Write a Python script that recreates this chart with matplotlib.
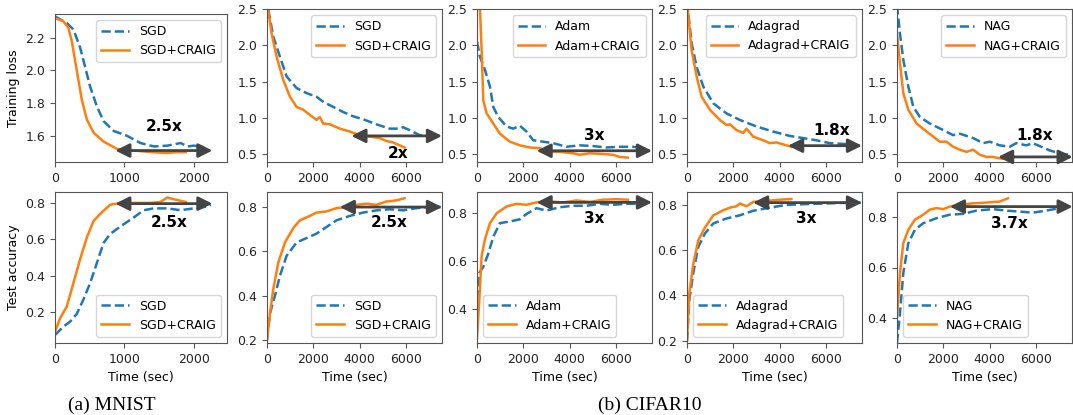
import matplotlib
matplotlib.use('Agg')
import matplotlib.pyplot as plt

# ---- data (time in sec, values) ----
# MNIST, training loss
mn_loss_sgd_t = [0, 169, 266, 362, 435, 507, 604, 700, 845, 1039, 1232, 1425, 1618, 1812, 1910, 2005, 2150]
mn_loss_sgd_v = [2.33, 2.29, 2.25, 2.14, 2.02, 1.90, 1.78, 1.69, 1.63, 1.60, 1.556, 1.535, 1.54, 1.556, 1.535, 1.54, 1.53]
mn_loss_craig_t = [0, 121, 193, 242, 290, 338, 387, 459, 555, 700, 894, 1135, 1400, 1600, 1750, 1884]
mn_loss_craig_v = [2.32, 2.30, 2.26, 2.18, 2.06, 1.94, 1.82, 1.70, 1.62, 1.565, 1.52, 1.51, 1.50, 1.495, 1.50, 1.50]

# MNIST, test accuracy
mn_acc_sgd_t = [0, 121, 217, 314, 411, 507, 604, 700, 797, 942, 1135, 1280, 1425, 1618, 1811, 2004, 2198, 2246]
mn_acc_sgd_v = [0.074, 0.12, 0.147, 0.19, 0.27, 0.36, 0.47, 0.58, 0.63, 0.67, 0.72, 0.76, 0.77, 0.77, 0.76, 0.77, 0.78, 0.79]
mn_acc_craig_t = [0, 72, 169, 266, 362, 459, 555, 652, 797, 942, 1135, 1377, 1521, 1618, 1715, 1884]
mn_acc_craig_v = [0.09, 0.165, 0.23, 0.36, 0.49, 0.61, 0.70, 0.74, 0.79, 0.80, 0.80, 0.80, 0.805, 0.83, 0.82, 0.805]

# CIFAR10, training loss
c_sgd_loss_t = [57, 272, 559, 846, 1276, 1706, 2137, 2424, 2854, 3284, 3714, 4144, 4718, 5292, 5722, 5865, 6152, 6582, 7000]
c_sgd_loss_v = [2.49, 2.12, 1.84, 1.57, 1.41, 1.34, 1.29, 1.22, 1.15, 1.08, 1.02, 0.98, 0.91, 0.85, 0.85, 0.87, 0.83, 0.76, 0.75]
c_sgdc_loss_t = [0, 200, 416, 703, 990, 1276, 1563, 1850, 2137, 2280, 2424, 2711, 3141, 3571, 4001, 4431, 4861, 5149, 5436, 5722, 5937]
c_sgdc_loss_v = [2.6, 2.16, 1.84, 1.52, 1.29, 1.15, 1.11, 1.04, 0.97, 1.01, 0.92, 0.91, 0.85, 0.81, 0.76, 0.74, 0.72, 0.68, 0.66, 0.62, 0.59]

c_adam_loss_t = [0, 129, 344, 559, 703, 918, 1276, 1563, 1850, 2137, 2424, 2854, 3284, 3858, 4431, 5005, 5578, 6152, 6725, 7200]
c_adam_loss_v = [2.05, 1.84, 1.66, 1.43, 1.15, 1.01, 0.88, 0.85, 0.89, 0.81, 0.69, 0.67, 0.65, 0.60, 0.62, 0.61, 0.59, 0.60, 0.60, 0.58]
c_adamc_loss_t = [0, 129, 200, 272, 416, 703, 990, 1419, 1850, 2280, 2711, 3141, 3571, 4144, 4431, 4861, 5436, 5865, 6152, 6510]
c_adamc_loss_v = [3.2, 2.49, 1.93, 1.24, 1.06, 0.92, 0.78, 0.67, 0.62, 0.59, 0.58, 0.53, 0.53, 0.51, 0.49, 0.51, 0.50, 0.49, 0.46, 0.45]

c_ada_loss_t = [0, 200, 416, 703, 1133, 1706, 2280, 2997, 3714, 4431, 5005, 5578, 6152, 6725, 7200]
c_ada_loss_v = [2.6, 2.03, 1.70, 1.43, 1.20, 1.06, 0.97, 0.88, 0.81, 0.75, 0.72, 0.69, 0.65, 0.64, 0.63]
c_adac_loss_t = [0, 200, 416, 631, 990, 1419, 1706, 1850, 2137, 2424, 2567, 2854, 3284, 3571, 3858, 4288, 4503]
c_adac_loss_v = [2.6, 1.93, 1.57, 1.29, 1.11, 0.97, 0.90, 0.91, 0.83, 0.79, 0.85, 0.74, 0.69, 0.65, 0.66, 0.62, 0.60]

c_nag_loss_t = [0, 129, 272, 488, 703, 990, 1419, 1993, 2424, 2711, 3284, 3714, 4001, 4431, 4861, 5149, 5578, 5865, 6224, 6582, 7012, 7443]
c_nag_loss_v = [2.55, 2.16, 1.80, 1.43, 1.15, 1.01, 0.92, 0.83, 0.76, 0.78, 0.72, 0.65, 0.67, 0.62, 0.60, 0.65, 0.62, 0.65, 0.60, 0.55, 0.51, 0.49]
c_nagc_loss_t = [0, 129, 272, 488, 846, 1276, 1563, 1850, 2137, 2424, 2711, 2997, 3284, 3571, 3858, 4144, 4431, 4718]
c_nagc_loss_v = [2.15, 1.75, 1.34, 1.11, 0.92, 0.81, 0.74, 0.67, 0.67, 0.60, 0.56, 0.53, 0.56, 0.49, 0.46, 0.46, 0.44, 0.43]

# CIFAR10, test accuracy
c_sgd_acc_t = [0, 129, 344, 559, 846, 1276, 1706, 2137, 2567, 2997, 3571, 4144, 4718, 5292, 5865, 6439, 7012, 7500]
c_sgd_acc_v = [0.2, 0.32, 0.40, 0.49, 0.58, 0.64, 0.66, 0.68, 0.71, 0.74, 0.76, 0.775, 0.785, 0.79, 0.785, 0.795, 0.80, 0.80]
c_sgdc_acc_t = [0, 129, 272, 488, 775, 1133, 1419, 1850, 2137, 2567, 2997, 3428, 3858, 4288, 4718, 5149, 5578, 5937]
c_sgdc_acc_v = [0.2, 0.32, 0.43, 0.55, 0.64, 0.705, 0.74, 0.76, 0.775, 0.78, 0.795, 0.80, 0.81, 0.815, 0.81, 0.825, 0.83, 0.84]

c_adam_acc_t = [0, 100, 272, 488, 703, 990, 1419, 1850, 2137, 2567, 2997, 3571, 4144, 4718, 5292, 5865, 6439, 7200]
c_adam_acc_v = [0.44, 0.55, 0.575, 0.63, 0.70, 0.756, 0.763, 0.772, 0.794, 0.818, 0.808, 0.822, 0.828, 0.828, 0.836, 0.832, 0.836, 0.836]
c_adamc_acc_t = [0, 100, 200, 344, 559, 846, 1276, 1706, 2137, 2567, 3141, 3714, 4288, 4861, 5436, 6009, 6510]
c_adamc_acc_v = [0.28, 0.44, 0.62, 0.69, 0.756, 0.797, 0.825, 0.836, 0.832, 0.842, 0.846, 0.842, 0.85, 0.844, 0.853, 0.855, 0.853]

c_ada_acc_t = [0, 100, 272, 488, 775, 1133, 1706, 2280, 2854, 3571, 4288, 5005, 5865, 6725, 7500]
c_ada_acc_v = [0.2, 0.38, 0.50, 0.615, 0.674, 0.718, 0.74, 0.754, 0.774, 0.788, 0.80, 0.803, 0.806, 0.809, 0.81]
c_adac_acc_t = [0, 100, 272, 488, 775, 1133, 1563, 1850, 2137, 2280, 2567, 2854, 3284, 3714, 4144, 4503]
c_adac_acc_v = [0.2, 0.41, 0.54, 0.644, 0.70, 0.754, 0.776, 0.788, 0.794, 0.806, 0.794, 0.813, 0.818, 0.82, 0.824, 0.826]

c_nag_acc_t = [0, 129, 272, 488, 775, 1133, 1706, 2280, 2854, 3428, 4144, 4718, 5292, 5865, 6439, 7012, 7543]
c_nag_acc_v = [0.30, 0.42, 0.578, 0.697, 0.75, 0.776, 0.796, 0.81, 0.813, 0.826, 0.832, 0.826, 0.822, 0.818, 0.826, 0.836, 0.842]
c_nagc_acc_t = [0, 129, 272, 488, 775, 1133, 1419, 1706, 1993, 2280, 2711, 3284, 3858, 4431, 4790]
c_nagc_acc_v = [0.40, 0.578, 0.697, 0.75, 0.79, 0.81, 0.83, 0.836, 0.832, 0.842, 0.849, 0.855, 0.858, 0.862, 0.875]

optimizers = ['SGD', 'SGD', 'Adam', 'Adagrad', 'NAG']
speedups_loss = ['2.5x', '2x', '3x', '1.8x', '1.8x']
speedups_acc = ['2.5x', '2.5x', '3x', '3x', '3.7x']

loss_curves = [
    (mn_loss_sgd_t, mn_loss_sgd_v, mn_loss_craig_t, mn_loss_craig_v),
    (c_sgd_loss_t, c_sgd_loss_v, c_sgdc_loss_t, c_sgdc_loss_v),
    (c_adam_loss_t, c_adam_loss_v, c_adamc_loss_t, c_adamc_loss_v),
    (c_ada_loss_t, c_ada_loss_v, c_adac_loss_t, c_adac_loss_v),
    (c_nag_loss_t, c_nag_loss_v, c_nagc_loss_t, c_nagc_loss_v),
]
acc_curves = [
    (mn_acc_sgd_t, mn_acc_sgd_v, mn_acc_craig_t, mn_acc_craig_v),
    (c_sgd_acc_t, c_sgd_acc_v, c_sgdc_acc_t, c_sgdc_acc_v),
    (c_adam_acc_t, c_adam_acc_v, c_adamc_acc_t, c_adamc_acc_v),
    (c_ada_acc_t, c_ada_acc_v, c_adac_acc_t, c_adac_acc_v),
    (c_nag_acc_t, c_nag_acc_v, c_nagc_acc_t, c_nagc_acc_v),
]

# arrow (x0, x1, y) and label (x, y) per panel
loss_arrows = [(870, 2270, 1.51, 1570, 1.655), (3640, 7550, 0.75, 5650, 0.51),
               (2570, 7550, 0.545, 5080, 0.76), (4360, 7550, 0.615, 6220, 0.83),
               (4360, 7580, 0.46, 5940, 0.76)]
acc_arrows = [(869, 2270, 0.796, 1642, 0.69), (3140, 7550, 0.80, 5290, 0.728),
              (2570, 7550, 0.842, 5080, 0.776), (2850, 7550, 0.81, 5150, 0.74),
              (2280, 7580, 0.842, 4860, 0.776)]

loss_ylims = [(1.44, 2.345), (0.39, 2.5), (0.39, 2.5), (0.39, 2.5), (0.39, 2.5)]
acc_ylims = [(0.03, 0.86), (0.186, 0.868), (0.26, 0.885), (0.19, 0.857), (0.30, 0.90)]
acc_legend_loc = ['lower right', 'lower right', 'lower left', 'lower left', 'lower left']

plt.rcParams['font.size'] = 9
plt.rcParams['axes.edgecolor'] = '#555555'
plt.rcParams['xtick.color'] = '#555555'
plt.rcParams['ytick.color'] = '#555555'
plt.rcParams['xtick.labelcolor'] = '#222222'
plt.rcParams['ytick.labelcolor'] = '#222222'

fig = plt.figure(figsize=(10.73, 4.15), dpi=100)

lefts = [55, 267, 477, 687, 897]
widths = [172, 175, 175, 175, 175]
W, H = 1073, 415
arrow_kw = dict(arrowstyle='<|-|>', color='#444444', lw=2, mutation_scale=21, shrinkA=0, shrinkB=0)


def draw(ax, curves, name, arrow, ylim, legend_loc, mnist):
    t1, v1, t2, v2 = curves
    ax.plot(t1, v1, '--', color='#1f77b4', lw=1.8, label=name)
    ax.plot(t2, v2, '-', color='#ff7f0e', lw=1.8, label=name + '+CRAIG')
    x0, x1, y, tx, ty = arrow
    ax.annotate('', xy=(x1, y), xytext=(x0, y), arrowprops=arrow_kw, annotation_clip=False)
    ax.text(tx, ty, speedup, ha='center', va='center', fontsize=11, fontweight='bold')
    ax.set_ylim(*ylim)
    if mnist:
        ax.set_xlim(0, 2480)
        ax.set_xticks([0, 1000, 2000])
    else:
        ax.set_xlim(0, 7550)
        ax.set_xticks([0, 2000, 4000, 6000])
    ax.legend(loc=legend_loc, fontsize=9, handlelength=2.2)


for i in range(5):
    top_h = 162 - (14 if i == 0 else 9)
    ax = fig.add_axes([lefts[i] / W, 1 - 162 / H, widths[i] / W, top_h / H])
    speedup = speedups_loss[i]
    draw(ax, loss_curves[i], optimizers[i], loss_arrows[i], loss_ylims[i], 'upper right', i == 0)
    if i == 0:
        ax.set_yticks([1.6, 1.8, 2.0, 2.2])
        ax.set_ylabel('Training loss')
    else:
        ax.set_yticks([0.5, 1.0, 1.5, 2.0, 2.5])

    ax = fig.add_axes([lefts[i] / W, 1 - 343 / H, widths[i] / W, 151 / H])
    speedup = speedups_acc[i]
    draw(ax, acc_curves[i], optimizers[i], acc_arrows[i], acc_ylims[i], acc_legend_loc[i], i == 0)
    if i in (2, 4):
        ax.set_yticks([0.4, 0.6, 0.8])
    else:
        ax.set_yticks([0.2, 0.4, 0.6, 0.8])
    ax.set_xlabel('Time (sec)')
    if i == 0:
        ax.set_ylabel('Test accuracy')

fig.text(112 / W, 1 - 405 / H, '(a) MNIST', ha='center', va='center',
         family='Liberation Serif', fontsize=14)
fig.text(650 / W, 1 - 405 / H, '(b) CIFAR10', ha='center', va='center',
         family='Liberation Serif', fontsize=14)

fig.savefig('out.png', dpi=100)
